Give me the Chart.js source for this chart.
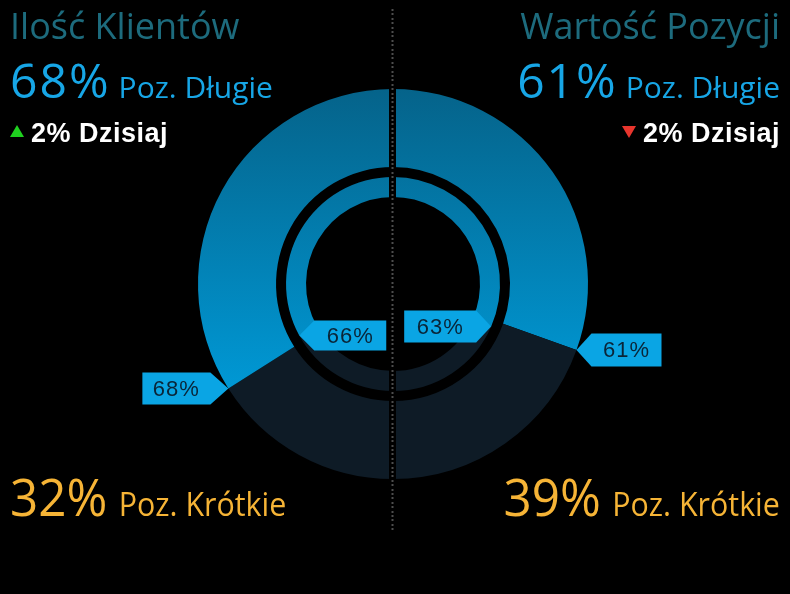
<!DOCTYPE html>
<html>
<head>
<meta charset="utf-8">
<script src="https://cdn.jsdelivr.net/npm/chart.js@4.4.1/dist/chart.umd.min.js"></script>
<style>
  html, body { margin: 0; padding: 0; background: #000; }
  #wrap { position: relative; width: 790px; height: 594px; overflow: hidden; background: #000; }
  #chart { position: absolute; left: 0; top: 0; }
  .line { position: absolute; white-space: nowrap; font-family: 'Open Sans', sans-serif; line-height: 1; }
  .left { left: 10px; transform-origin: left center; }
  .right { right: 10px; text-align: right; transform-origin: right center; }
  .title { top: 8px; font-size: 36px; font-weight: 500; color: #1d6b7d; }
  .long { top: 56px; font-size: 48px; color: #17a6e6; letter-spacing: 2px; }
  .long small { font-size: 30px; letter-spacing: 0; margin-left: 8px; }
  .today { top: 120px; font-family: 'Liberation Sans', Arial, sans-serif; font-weight: bold; font-size: 27px; letter-spacing: 0.5px; color: #fff; }
  .short { top: 470px; font-size: 52px; color: #f6b436; transform: scaleX(0.95); }
  .short small { font-size: 32px; margin-left: 12px; }
  .tri { display: inline-block; width: 0; height: 0; border-left: 7px solid transparent; border-right: 7px solid transparent; margin-right: 7px; }
  .up { border-bottom: 12px solid #1fd11f; vertical-align: 5px; }
  .down { border-top: 12px solid #e8352d; vertical-align: 4px; }
</style>
</head>
<body>
<div id="wrap">
  <canvas id="chart" width="790" height="594"></canvas>
  <div id="texts"></div>
</div>
<script>
// Left half = "Ilość Klientów", right half = "Wartość Pozycji"
const titles = ['Ilość Klientów', 'Wartość Pozycji'];
const longPct = [68, 61];       // outer ring, long positions
const shortPct = [32, 39];      // outer ring, short positions
const innerLongPct = [66, 63];  // inner ring, long positions
const innerShortPct = [34, 37]; // inner ring, short positions
const dailyChange = [2, -2];    // change today
const longLabel = 'Poz. Długie';
const shortLabel = 'Poz. Krótkie';
const todayLabel = 'Dzisiaj';

// Segments go clockwise from 12 o'clock: right long, right short, left short, left long
const segmentLabels = [
    titles[1] + ' - ' + longLabel,
    titles[1] + ' - ' + shortLabel,
    titles[0] + ' - ' + shortLabel,
    titles[0] + ' - ' + longLabel
];
const outerData = [longPct[1], shortPct[1], shortPct[0], longPct[0]];
const innerData = [innerLongPct[1], innerShortPct[1], innerShortPct[0], innerLongPct[0]];

const darkColor = '#0e1b26';

// vertical blue gradient, darker at the top
function blueFill(context) {
    const chart = context.chart;
    const area = chart.chartArea;
    if (!area) return '#0a80b0';
    const cy = (area.top + area.bottom) / 2;
    const g = chart.ctx.createLinearGradient(0, cy - 195, 0, cy + 110);
    g.addColorStop(0, '#05638a');
    g.addColorStop(1, '#0099d6');
    return g;
}

function segmentFill(context) {
    // index 0 and 3 are the long segments
    return (context.dataIndex === 0 || context.dataIndex === 3) ? blueFill(context) : darkColor;
}

// Callout tags + the dotted divider
const tagPlugin = {
    id: 'tags',
    afterDatasetsDraw(chart) {
        const ctx = chart.ctx;
        const outer = chart.getDatasetMeta(0).data;
        const inner = chart.getDatasetMeta(2).data;
        const cx = outer[0].x, cy = outer[0].y;

        // divider gap between the halves
        ctx.save();
        ctx.fillStyle = '#000';
        ctx.fillRect(cx - 4, 0, 7, chart.height);
        ctx.fillStyle = '#4d4d4d';
        for (let y = 9; y < 530; y += 4.4) {
            ctx.fillRect(cx - 1.5, Math.round(y), 2, 2);
        }

        function tip(arc, angle) {
            return { x: cx + arc.outerRadius * Math.cos(angle), y: cy + arc.outerRadius * Math.sin(angle) };
        }
        function tag(p, dir, text, w, h, arrow) {
            // dir = -1 body on the left of the tip, +1 body on the right
            const x0 = p.x + dir * arrow;
            const x1 = x0 + dir * w;
            ctx.beginPath();
            ctx.moveTo(p.x, p.y);
            ctx.lineTo(x0, p.y - h / 2);
            ctx.lineTo(x1, p.y - h / 2);
            ctx.lineTo(x1, p.y + h / 2);
            ctx.lineTo(x0, p.y + h / 2);
            ctx.closePath();
            ctx.fillStyle = '#0aa5e4';
            ctx.fill();
            ctx.fillStyle = '#0a2538';
            ctx.font = '22px "Liberation Sans", Arial, sans-serif';
            ctx.letterSpacing = '1px';
            ctx.textAlign = 'center';
            ctx.textBaseline = 'middle';
            ctx.fillText(text, (x0 + x1) / 2, p.y + 1);
        }

        tag(tip(outer[3], outer[3].startAngle), -1, longPct[0] + '%', 68, 32, 18);
        tag(tip(outer[0], outer[0].endAngle), 1, longPct[1] + '%', 70, 33, 15);
        tag(tip(inner[3], inner[3].startAngle), 1, innerLongPct[0] + '%', 72, 30, 15);
        tag(tip(inner[0], inner[0].endAngle), -1, innerLongPct[1] + '%', 72, 32, 15);
        ctx.restore();
    }
};

// Text blocks
function buildTexts() {
    const box = document.getElementById('texts');
    const sides = ['left', 'right'];
    let html = '';
    sides.forEach(function (side, i) {
        const up = dailyChange[i] >= 0;
        html += '<div class="line title ' + side + '">' + titles[i] + '</div>';
        html += '<div class="line long ' + side + '">' + longPct[i] + '%<small>' + longLabel + '</small></div>';
        html += '<div class="line today ' + side + '"><span class="tri ' + (up ? 'up' : 'down') + '"></span>' +
            Math.abs(dailyChange[i]) + '% ' + todayLabel + '</div>';
        html += '<div class="line short ' + side + '">' + shortPct[i] + '%<small>' + shortLabel + '</small></div>';
    });
    box.innerHTML = html;
}

document.addEventListener('DOMContentLoaded', function () {
    buildTexts();
    const ctx = document.getElementById('chart').getContext('2d');
    window.positionsChart = new Chart(ctx, {
        type: 'doughnut',
        data: {
            labels: segmentLabels,
            datasets: [
                { data: outerData, backgroundColor: segmentFill, borderWidth: 0, weight: 78 },
                { data: [1], backgroundColor: 'rgba(0,0,0,0)', borderWidth: 0, weight: 10 },
                { data: innerData, backgroundColor: segmentFill, borderWidth: 0, weight: 20 }
            ]
        },
        options: {
            responsive: false,
            animation: false,
            radius: 195,
            cutout: '44.6%',
            layout: { padding: { left: 0, right: 4, top: 0, bottom: 26 } },
            plugins: {
                legend: { display: false },
                tooltip: { enabled: false }
            }
        },
        plugins: [tagPlugin]
    });
});
</script>
</body>
</html>
